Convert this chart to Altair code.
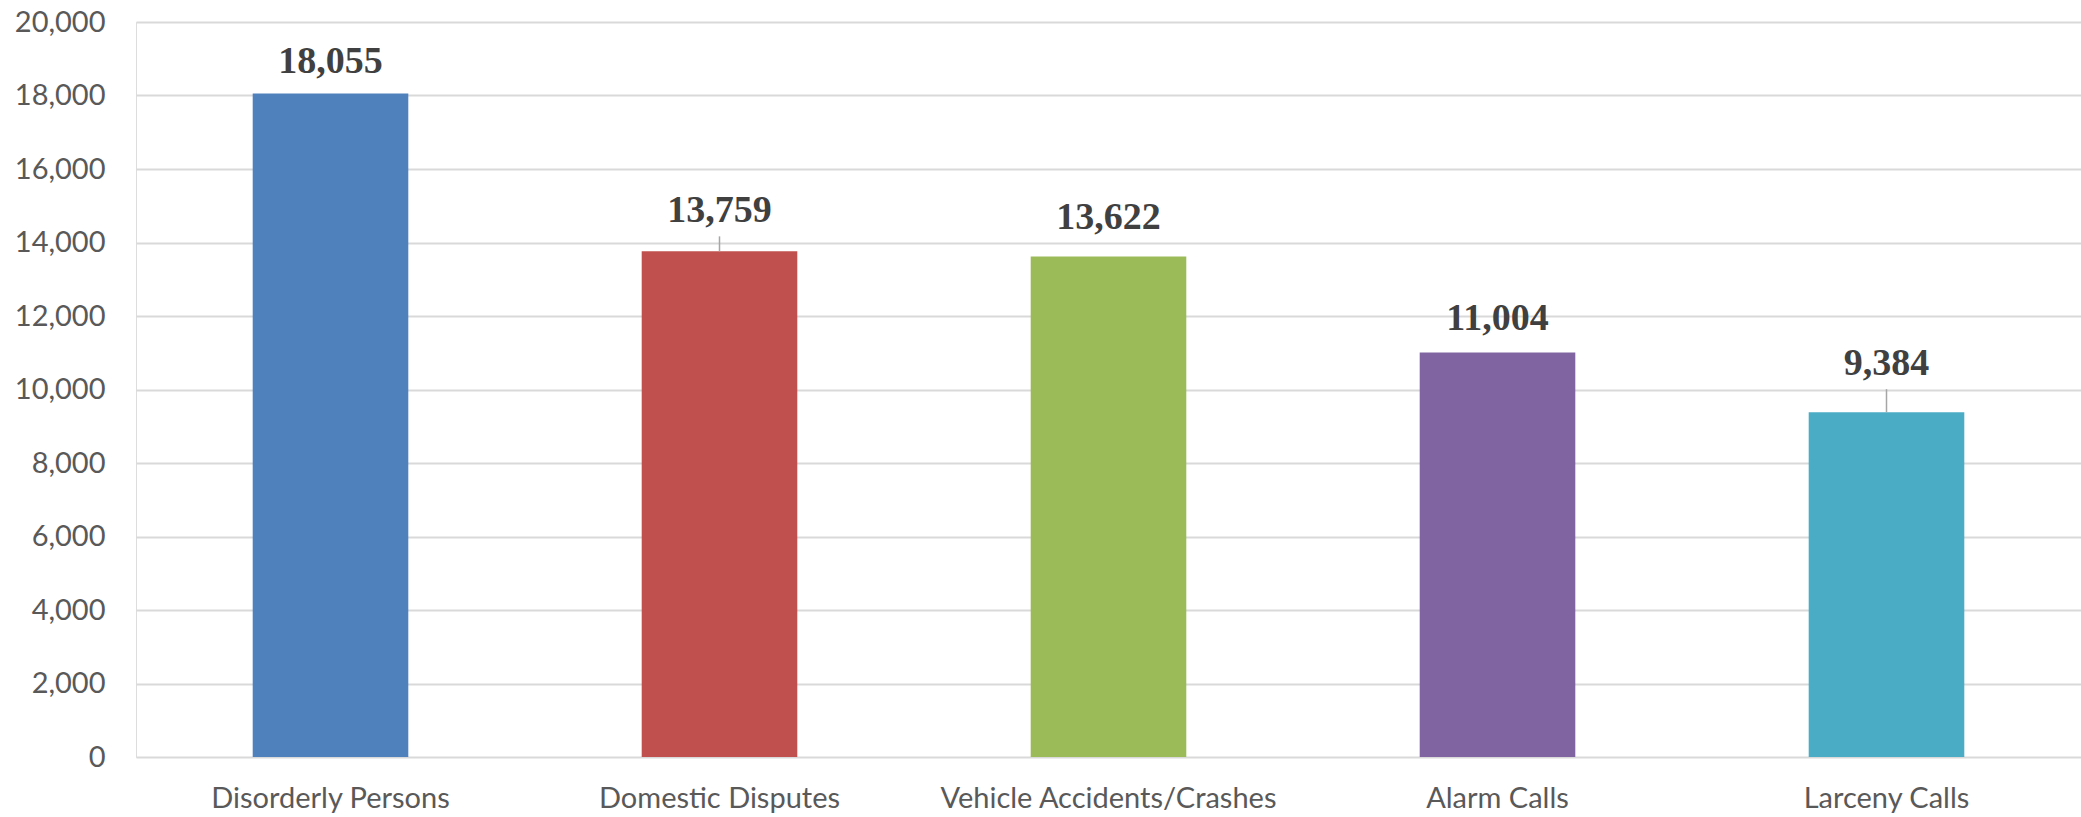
import altair as alt
import pandas as pd

# Calls for service, top five call types
categories = [
    "Disorderly Persons",
    "Domestic Disputes",
    "Vehicle Accidents/Crashes",
    "Alarm Calls",
    "Larceny Calls",
]
calls = [18055, 13759, 13622, 11004, 9384]
bar_colors = ["#4F81BD", "#C0504D", "#9BBB59", "#8064A2", "#4BACC6"]

# Layout of the value labels: gap (px) between label baseline and bar top,
# and whether a leader line joins the label to its bar
label_gap_px = [20, 29, 27, 23, 37]
has_leader = [False, True, False, False, True]

PLOT_W = 1945
PLOT_H = 735
Y_MAX = 20000
units_per_px = Y_MAX / PLOT_H

df = pd.DataFrame({"category": categories, "calls": calls, "color": bar_colors})
df["label"] = [f"{v:,}" for v in calls]
df["label_y"] = [v + g * units_per_px for v, g in zip(calls, label_gap_px)]
df["leader_top"] = [v + (g - 14) * units_per_px for v, g in zip(calls, label_gap_px)]
leaders = df[has_leader]

x_enc = alt.X(
    "category:N",
    sort=categories,
    title=None,
    scale=alt.Scale(paddingInner=0.6, paddingOuter=0.3),
    axis=alt.Axis(
        labelAngle=0,
        labelFont="Lato",
        labelFontSize=29,
        labelColor="#595959",
        labelPadding=27,
        labelLimit=0,
        domain=False,
        ticks=False,
        grid=False,
    ),
)

y_scale = alt.Scale(domain=[0, Y_MAX], nice=False)

bars = alt.Chart(df).mark_bar().encode(
    x=x_enc,
    y=alt.Y(
        "calls:Q",
        title=None,
        scale=y_scale,
        axis=alt.Axis(
            values=list(range(0, 20001, 2000)),
            format=",d",
            labelFont="Lato",
            labelFontSize=29,
            labelColor="#595959",
            labelPadding=31,
            domain=False,
            ticks=False,
            grid=True,
            gridColor="#d9d9d9",
            gridWidth=2,
        ),
    ),
    color=alt.Color("color:N", scale=None, legend=None),
)

leader_lines = alt.Chart(leaders).mark_rule(color="#a6a6a6", strokeWidth=1.5).encode(
    x=alt.X("category:N", sort=categories),
    y=alt.Y("calls:Q", scale=y_scale),
    y2="leader_top:Q",
)

labels = alt.Chart(df).mark_text(
    font="Liberation Serif",
    fontWeight="bold",
    fontSize=38,
    color="#404040",
    baseline="alphabetic",
    align="center",
).encode(
    x=alt.X("category:N", sort=categories),
    y=alt.Y("label_y:Q", scale=y_scale),
    text="label:N",
)

chart = (
    alt.layer(bars, leader_lines, labels)
    .properties(
        width=PLOT_W,
        height=PLOT_H,
        autosize=alt.AutoSizeParams(type="none"),
        padding={"left": 136, "top": 22, "right": 0, "bottom": 60},
    )
    .configure_view(stroke=None)
    .configure(background="white")
)

chart.save("out.html", embed_options={"renderer": "svg", "actions": False})
